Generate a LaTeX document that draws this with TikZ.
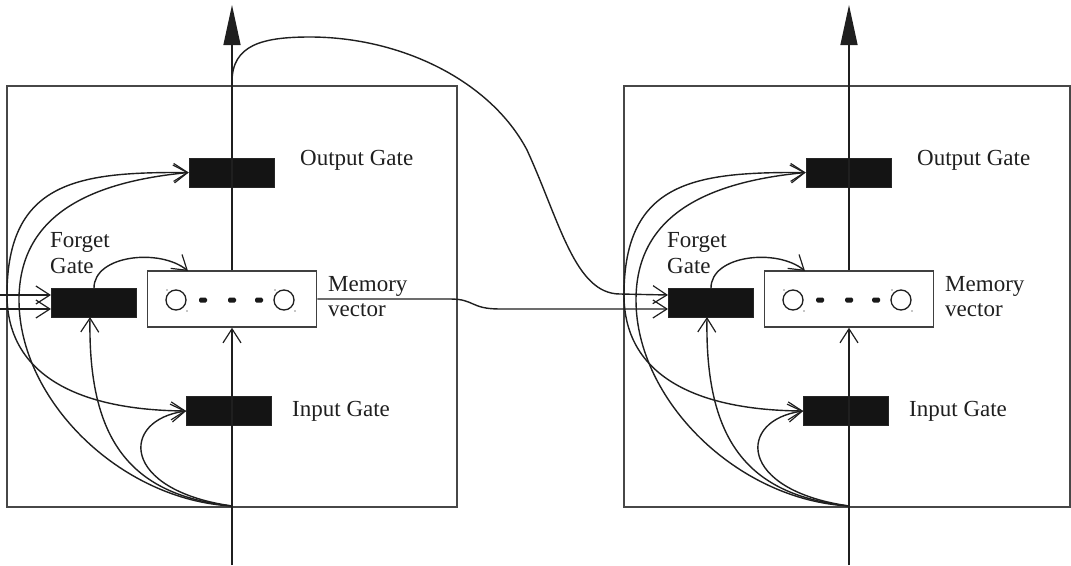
\documentclass[tikz,border=0pt]{standalone}
\usepackage{fontspec}
\setmainfont{Liberation Serif}
\usetikzlibrary{arrows.meta}
\begin{document}
\begin{tikzpicture}[x=1pt,y=-1pt,
  cellframe/.style={draw=black!72, line width=1.6pt},
  gate/.style={fill=black!92, draw=black!85, line width=0.6pt,
    minimum width=85pt, minimum height=29pt, inner sep=0pt},
  membox/.style={draw=black!75, line width=1.5pt, fill=white,
    minimum width=169pt, minimum height=56pt, inner sep=0pt},
  wire/.style={line width=1.4pt, draw=black!88},
  openarrow/.style={-{Straight Barb[length=14pt,width=18pt,line width=1.2pt]}},
  bigarrow/.style={-{Triangle[length=40pt,width=17pt]}},
  gatetext/.style={font=\fontsize{23}{26}\selectfont, text=black!88,
    inner sep=0pt, anchor=base west},
  cellmark/.style={line width=1.3pt, draw=black!88}]
\useasboundingbox (0,0) rectangle (1071,565);

% the two cell frames
\draw[cellframe] (7,86) rectangle (457,507);
\draw[cellframe] (624,86) rectangle (1070,507);

% one LSTM memory block per time step
\foreach \c/\dx in {a/0,b/617}{
\begin{scope}[xshift=\dx]
  \coordinate (\c-in)  at (232,565);
  \coordinate (\c-B)   at (232,506);
  \coordinate (\c-top) at (232,5);
  \coordinate (\c-S)   at (232,82);
  \coordinate (\c-P)   at (7,295);
  \coordinate (\c-hin) at (51,295);
  \coordinate (\c-cin) at (51,309);
  \coordinate (\c-fbot) at (90,317);
  \coordinate (\c-ftop) at (94,288);
  \coordinate (\c-mtop) at (188,271);

  \node[gate] (\c-og) at (231.5,172.5) {};
  \node[gate] (\c-fg) at (93.5,302.5) {};
  \node[gate] (\c-ig) at (229,411) {};
  \node[membox] (\c-mem) at (232,299) {};

  % main vertical path
  \draw[wire,openarrow] (\c-in) -- (\c-mem.south);
  \draw[wire,bigarrow] (\c-mem.north) -- (\c-top);

  % memory cells inside the vector
  \draw[cellmark] (176,300) circle[radius=10];
  \draw[cellmark] (284,300) circle[radius=10];
  \foreach \xd in {203,232,259}
    \fill[black!90, rounded corners=1.5pt] (\xd-4,297.5) rectangle (\xd+4,302.5);
  \fill[black!45] (167,290) circle[radius=0.8] (187,311) circle[radius=0.8]
                  (275,290) circle[radius=0.8] (295,311) circle[radius=0.8];

  % input fan from the bottom
  \draw[wire,openarrow] (\c-B) .. controls (120,500) and (19,400) .. (19,300)
        .. controls (19,215) and (90,182) .. (\c-og.west);
  \draw[wire,openarrow] (\c-B) .. controls (130,495) and (88,440) .. (\c-fbot);
  \draw[wire,openarrow] (\c-B) .. controls (120,490) and (120,420) .. (\c-ig.west);

  % recurrent fan from the left
  \draw[wire,openarrow] (\c-P) .. controls (7,180) and (80,172) .. (\c-og.west);
  \draw[wire,openarrow] (\c-P) .. controls (7,370) and (70,410) .. (\c-ig.west);

  % forget gate into the memory vector
  \draw[wire,openarrow] (\c-ftop) .. controls (94,255) and (160,248) .. (\c-mtop);

  % labels
  \node[gatetext] (\c-otext) at (300,165) {Output Gate};
  \node[gatetext] (\c-ftext1) at (50,247) {Forget};
  \node[gatetext] (\c-ftext2) at (50,273) {Gate};
  \node[gatetext] (\c-mtext1) at (328,291.5) {Memory};
  \node[gatetext] (\c-mtext2) at (328,316.5) {vector};
  \node[gatetext] (\c-itext) at (292,416.5) {Input Gate};
\end{scope}
}

% inputs of the first block
\coordinate (h0) at (0,295);
\coordinate (c0) at (0,309);
\draw[wire,openarrow] (h0) -- (a-hin);
\draw[wire,openarrow] (c0) -- (a-cin);

% output and memory passed to the next block
\draw[wire,openarrow] (a-S) .. controls (232,45) and (262,37) .. (310,37)
      .. controls (400,37) and (490,80) .. (527,150)
      .. controls (560,222) and (575,294) .. (620,294) -- (b-hin);
\draw[wire,openarrow] (a-mem.east) -- (450,299)
      .. controls (475,299) and (470,309) .. (500,309) -- (b-cin);
\end{tikzpicture}
\end{document}
